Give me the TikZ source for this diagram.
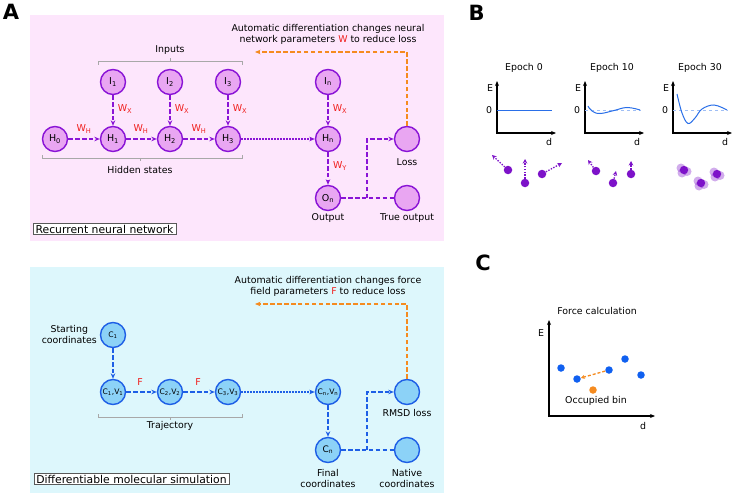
\documentclass[tikz,border=0pt]{standalone}
\usepackage{fontspec}
\setmainfont{DejaVu Sans}
\usetikzlibrary{arrows.meta, positioning, calc}
\definecolor{rnnFill}{HTML}{E9A6F2}
\definecolor{rnnLine}{HTML}{8A14D6}
\definecolor{rnnBack}{HTML}{FDE6FC}
\definecolor{mdFill}{HTML}{8CD2F7}
\definecolor{mdLine}{HTML}{1E5FE6}
\definecolor{mdBack}{HTML}{DDF7FC}
\definecolor{gradOrange}{HTML}{F58B1F}
\definecolor{wRed}{HTML}{F0201E}
\definecolor{brGray}{HTML}{A8A8A8}
\definecolor{atomPurple}{HTML}{7D12C9}
\definecolor{curveBlue}{HTML}{2A6FE8}
\definecolor{dotBlue}{HTML}{1060F0}

\tikzset{
  lbl/.style={font=\fontsize{9.4}{11}\selectfont, align=center, inner sep=0pt},
  wlbl/.style={font=\fontsize{9.5}{10}\selectfont, text=wRed, inner sep=0pt},
  panel/.style={font=\fontsize{21}{21}\selectfont\bfseries, inner sep=0pt},
  rnnnode/.style={circle, draw=rnnLine, fill=rnnFill, line width=1.4pt, minimum size=25pt, inner sep=0pt, font=\fontsize{9.5}{10}\selectfont},
  mdnode/.style={circle, draw=mdLine, fill=mdFill, line width=1.4pt, minimum size=25pt, inner sep=0pt, font=\fontsize{7.6}{8}\selectfont},
  rnnarrow/.style={draw=rnnLine, line width=1.4pt, dash pattern=on 4.5pt off 2.4pt, -{Stealth[length=5.5pt,width=4.5pt]}},
  rnnline/.style={draw=rnnLine, line width=1.4pt, dash pattern=on 4.5pt off 2.4pt},
  rnndots/.style={draw=rnnLine, line width=1.4pt, dash pattern=on 1.4pt off 1.6pt, -{Stealth[length=5.5pt,width=4.5pt]}},
  mdarrow/.style={draw=mdLine, line width=1.4pt, dash pattern=on 4.5pt off 2.4pt, -{Stealth[length=5.5pt,width=4.5pt]}},
  mdline/.style={draw=mdLine, line width=1.4pt, dash pattern=on 4.5pt off 2.4pt},
  mddots/.style={draw=mdLine, line width=1.4pt, dash pattern=on 1.4pt off 1.6pt, -{Stealth[length=5.5pt,width=4.5pt]}},
  gradarrow/.style={draw=gradOrange, line width=1.4pt, dash pattern=on 4.5pt off 2.4pt, -{Stealth[length=5.5pt,width=4.5pt]}},
  bracket/.style={draw=brGray, line width=0.8pt},
  titlebox/.style={draw=gray!70!black, fill=white, line width=0.6pt, font=\fontsize{10.8}{12}\selectfont, inner xsep=2.5pt, inner ysep=1.5pt},
  axis/.style={line width=1.2pt, -{Stealth[length=5pt,width=4pt]}},
  atom/.style={circle, fill=atomPurple, minimum size=8.5pt, inner sep=0pt},
  atomarrow/.style={draw=atomPurple, line width=1.3pt, dash pattern=on 1.4pt off 1.4pt, -{Stealth[length=4.5pt,width=4.5pt]}},
  bluedot/.style={circle, fill=dotBlue, minimum size=7.5pt, inner sep=0pt}
}

\begin{document}
\begin{tikzpicture}[x=1pt, y=-1pt]
  \useasboundingbox (0,0) rectangle (733,495);
  \fill[white] (0,0) rectangle (733,495);

  % ---- panel A: recurrent neural network
  \fill[rnnBack] (30,15) rectangle (444,241);
  \node[panel] (labA) at (11,12) {A};

  \node[rnnnode] (H0) at (55,139) {H\textsubscript{0}};
  \node[rnnnode] (H1) at (113,139) {H\textsubscript{1}};
  \node[rnnnode] (H2) at (170,139) {H\textsubscript{2}};
  \node[rnnnode] (H3) at (228,139) {H\textsubscript{3}};
  \node[rnnnode] (Hn) at (328,139) {H\textsubscript{n}};
  \node[rnnnode] (I1) at (113,82) {I\textsubscript{1}};
  \node[rnnnode] (I2) at (170,82) {I\textsubscript{2}};
  \node[rnnnode] (I3) at (228,82) {I\textsubscript{3}};
  \node[rnnnode] (In) at (328,82) {I\textsubscript{n}};
  \node[rnnnode] (On) at (328,198) {O\textsubscript{n}};
  \node[rnnnode] (loss) at (407,139) {};
  \node[rnnnode] (tout) at (407,198) {};

  \draw[rnnarrow] (H0) -- (H1);
  \draw[rnnarrow] (H1) -- (H2);
  \draw[rnnarrow] (H2) -- (H3);
  \draw[rnndots] (H3) -- (Hn);
  \draw[rnnarrow] (I1) -- (H1);
  \draw[rnnarrow] (I2) -- (H2);
  \draw[rnnarrow] (I3) -- (H3);
  \draw[rnnarrow] (In) -- (Hn);
  \draw[rnnarrow] (Hn) -- (On);
  \coordinate (junA) at (367,198);
  \draw[rnnline] (On) -- (tout);
  \draw[rnnarrow] (junA) |- (loss);

  \node[wlbl] (wh1) at (84,129) {W\textsubscript{H}};
  \node[wlbl] (wh2) at (141,129) {W\textsubscript{H}};
  \node[wlbl] (wh3) at (199,129) {W\textsubscript{H}};
  \node[wlbl] (wx1) at (125,109) {W\textsubscript{X}};
  \node[wlbl] (wx2) at (182,109) {W\textsubscript{X}};
  \node[wlbl] (wx3) at (240,109) {W\textsubscript{X}};
  \node[wlbl] (wxn) at (340,109) {W\textsubscript{X}};
  \node[wlbl] (wy) at (340,166) {W\textsubscript{Y}};

  \draw[bracket] (98,65) -- (98,61) -- (242,61) -- (242,65);
  \draw[bracket] (170,61) -- (170,58);
  \node[lbl] (inputs) at (170,50) {Inputs};
  \draw[bracket] (42,155) -- (42,158) -- (242,158) -- (242,155);
  \draw[bracket] (140,158) -- (140,161);
  \node[lbl] (hidden) at (140,170) {Hidden states};

  \node[lbl] (losslbl) at (407,162) {Loss};
  \node[lbl] (outlbl) at (328,218) {Output};
  \node[lbl] (toutlbl) at (407,218) {True output};

  \coordinate (gradA) at (255,52);
  \draw[gradarrow] (loss.north) |- (gradA);
  \node[lbl] (gradtxtA) at (328,34) {Automatic differentiation changes neural\\network parameters \textcolor{wRed}{W} to reduce loss};

  \node[titlebox] (rnnttl) at (104.5,229) {Recurrent neural network};

  % ---- panel A lower: differentiable molecular simulation
  \fill[mdBack] (30,267) rectangle (444,493);

  \node[mdnode] (C1) at (113,335) {C\textsubscript{1}};
  \node[mdnode] (CV1) at (113,392) {C\textsubscript{1},V\textsubscript{1}};
  \node[mdnode] (CV2) at (170,392) {C\textsubscript{2},V\textsubscript{2}};
  \node[mdnode] (CV3) at (228,392) {C\textsubscript{3},V\textsubscript{3}};
  \node[mdnode] (CVn) at (328,392) {C\textsubscript{n},V\textsubscript{n}};
  \node[mdnode, font=\fontsize{9}{9}\selectfont] (Cn) at (328,450) {C\textsubscript{n}};
  \node[mdnode] (rmsd) at (407,392) {};
  \node[mdnode] (native) at (407,450) {};

  \draw[mdarrow] (C1) -- (CV1);
  \draw[mdarrow] (CV1) -- (CV2);
  \draw[mdarrow] (CV2) -- (CV3);
  \draw[mddots] (CV3) -- (CVn);
  \draw[mdarrow] (CVn) -- (Cn);
  \coordinate (junB) at (367,450);
  \draw[mdline] (Cn) -- (native);
  \draw[mdarrow] (junB) |- (rmsd);

  \node[wlbl] (f1) at (140,382) {F};
  \node[wlbl] (f2) at (198,382) {F};

  \node[lbl, anchor=east] (startlbl) at (97,334) {Starting\\coordinates};
  \draw[bracket] (98,414) -- (98,417) -- (242,417) -- (242,414);
  \draw[bracket] (170,417) -- (170,420);
  \node[lbl] (trajlbl) at (170,426) {Trajectory};

  \node[lbl] (rmsdlbl) at (407,413) {RMSD loss};
  \node[lbl] (finallbl) at (328,478) {Final\\coordinates};
  \node[lbl] (nativelbl) at (407,478) {Native\\coordinates};

  \coordinate (gradB) at (255,304);
  \draw[gradarrow] (rmsd.north) |- (gradB);
  \node[lbl] (gradtxtB) at (328,286) {Automatic differentiation changes force\\field parameters \textcolor{wRed}{F} to reduce loss};

  \node[titlebox] (mdttl) at (131.5,479) {Differentiable molecular simulation};

  % ---- panel B: potentials over epochs
  \node[panel] (labB) at (476.5,12.5) {B};
  \foreach \ox/\ep in {0/0, 88/10, 176/30}{
    \node[lbl] at (524+\ox,68) {Epoch \ep};
    \draw[axis] (497+\ox,133) -- (497+\ox,81);
    \draw[axis] (496.4+\ox,133) -- (556+\ox,133);
    \node[lbl] at (490+\ox,88) {E};
    \node[lbl] at (489+\ox,110) {0};
    \node[lbl] at (549+\ox,142) {d};
  }
  \draw[curveBlue, line width=1pt] (497,110) -- (552,110);
  \draw[curveBlue!45, line width=0.8pt, dashed] (585,110) -- (641,110);
  \draw[curveBlue, line width=1pt] plot[smooth, tension=0.7] coordinates {(588,106) (592,111) (600,113.5) (614,110.5) (627,107.5) (640,110)};
  \draw[curveBlue!45, line width=0.8pt, dashed] (673,110) -- (728,110);
  \draw[curveBlue, line width=1pt] plot[smooth, tension=0.6] coordinates {(677,94) (682,113) (688,123.5) (695,118) (702,109) (714,105) (727,110)};

  % atoms
  \node[atom] (a1) at (508,170) {};
  \node[atom] (a2) at (525,183) {};
  \node[atom] (a3) at (542,174) {};
  \coordinate (a1t) at (492,155);
  \coordinate (a2t) at (525,159);
  \coordinate (a3t) at (562,163);
  \draw[atomarrow] (a1) -- (a1t);
  \draw[atomarrow] (a2) -- (a2t);
  \draw[atomarrow] (a3) -- (a3t);
  \node[atom] (b1) at (596,171) {};
  \node[atom] (b2) at (613,183) {};
  \node[atom] (b3) at (631,174) {};
  \coordinate (b1t) at (588,160);
  \coordinate (b2t) at (616,171);
  \coordinate (b3t) at (631,161);
  \draw[atomarrow] (b1) -- (b1t);
  \draw[atomarrow] (b2) -- (b2t);
  \draw[atomarrow] (b3) -- (b3t);
  \foreach \cx/\cy in {684/170, 701/183, 717/174}{
    \fill[atomPurple, opacity=0.35] (\cx-3,\cy-2) circle (4.5pt);
    \fill[atomPurple, opacity=0.35] (\cx+3,\cy+1.5) circle (4.5pt);
    \fill[atomPurple, opacity=0.35] (\cx-2,\cy+3) circle (4.5pt);
    \fill[atomPurple] (\cx,\cy) circle (4.2pt);
  }

  % ---- panel C: force calculation
  \node[panel] (labC) at (483,263) {C};
  \node[lbl] (forcelbl) at (597,311) {Force calculation};
  \draw[axis] (549,416) -- (549,320);
  \draw[axis] (548.4,416) -- (655,416);
  \node[lbl] (cE) at (541,333) {E};
  \node[lbl] (cd) at (643,426) {d};
  \node[bluedot] (p1) at (561,368) {};
  \node[bluedot] (p2) at (577,379) {};
  \node[bluedot] (p3) at (609,370) {};
  \node[bluedot] (p4) at (625,359) {};
  \node[bluedot] (p5) at (641,375) {};
  \node[circle, fill=gradOrange, minimum size=7.5pt, inner sep=0pt] (occ) at (593,390) {};
  \draw[draw=gradOrange, line width=1.3pt, dash pattern=on 3pt off 2pt, -{Stealth[length=4pt,width=4pt]}] (p3) -- (p2);
  \node[lbl] (occlbl) at (596,401) {Occupied bin};
\end{tikzpicture}
\end{document}
